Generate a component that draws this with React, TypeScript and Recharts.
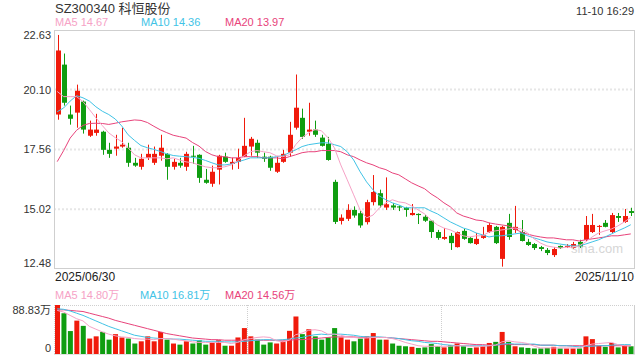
import React from 'react';
import { ComposedChart, Bar, Line, XAxis, YAxis, CartesianGrid, Cell } from 'recharts';

const UP = '#f01a0b';
const DOWN = '#0f9d10';
const C_MA5 = '#f6a2c6';
const C_MA10 = '#41c3e6';
const C_MA20 = '#e8437b';

// daily candles, 2025/06/30 .. 2025/11/10
const OPEN = [
  19.04, 21.16, 19.04, 19.12, 19.59, 18.14, 18.26, 18.31, 17.54, 17.59,
  17.68, 17.63, 16.99, 16.82, 17.20, 16.99, 17.29, 17.37, 16.82, 16.99,
  16.82, 17.29, 17.33, 16.27, 16.10, 16.70, 17.25, 16.94, 17.03, 17.25,
  17.68, 17.84, 17.25, 17.25, 16.61, 17.03, 17.42, 18.48, 18.90, 18.31,
  18.40, 18.06, 17.80, 16.18, 14.52, 14.61, 14.99, 14.85, 14.47, 15.32,
  15.70, 15.09, 15.18, 15.14, 15.08, 14.77, 14.82, 14.70, 14.53, 14.05,
  13.76, 13.89, 13.41, 14.10, 13.80, 13.54, 13.80, 14.05, 14.27, 12.91,
  14.44, 14.14, 14.05, 13.63, 13.54, 13.41, 13.29, 13.07, 13.46, 13.41,
  13.37, 13.63, 13.72, 14.05, 14.27, 14.44, 14.05, 14.73, 14.48, 14.94,
];
const HIGH = [
  22.42, 21.63, 19.42, 20.31, 19.63, 18.78, 19.07, 18.35, 17.84, 18.18,
  18.48, 17.84, 17.20, 17.37, 17.76, 17.68, 18.18, 17.40, 17.16, 17.20,
  17.46, 17.71, 17.35, 16.73, 16.87, 17.33, 17.42, 17.20, 17.59, 18.90,
  18.09, 17.97, 17.42, 17.29, 17.25, 17.54, 18.73, 20.74, 19.29, 19.54,
  18.78, 18.18, 18.09, 16.27, 14.80, 15.23, 15.14, 14.94, 15.42, 16.47,
  15.85, 16.37, 15.28, 15.18, 15.12, 15.24, 14.84, 14.77, 14.56, 14.14,
  14.22, 14.01, 14.07, 14.18, 13.84, 14.01, 14.27, 14.44, 14.31, 14.31,
  14.82, 15.16, 14.56, 13.76, 13.58, 13.46, 13.37, 13.41, 13.48, 13.54,
  13.63, 13.72, 14.73, 14.82, 14.35, 14.56, 14.86, 14.86, 15.03, 15.08,
];
const LOW = [
  18.82, 19.42, 18.61, 18.48, 18.23, 18.09, 18.14, 17.33, 17.20, 17.29,
  17.63, 16.82, 16.82, 16.70, 17.11, 16.90, 17.08, 16.27, 16.70, 16.78,
  16.65, 16.94, 16.14, 16.10, 15.97, 16.07, 16.99, 16.70, 16.73, 17.23,
  17.29, 17.20, 17.03, 16.65, 16.56, 16.99, 17.25, 18.40, 18.01, 18.14,
  18.09, 17.68, 17.08, 14.39, 14.37, 14.52, 14.66, 14.23, 14.37, 15.18,
  15.09, 14.99, 14.99, 14.94, 14.70, 14.75, 14.39, 14.48, 13.80, 13.72,
  13.72, 13.29, 13.39, 13.72, 13.56, 13.50, 13.76, 14.01, 13.54, 12.58,
  13.72, 14.01, 13.65, 13.46, 13.29, 13.24, 13.07, 12.99, 13.33, 13.37,
  13.33, 13.37, 13.67, 14.01, 13.93, 14.25, 14.01, 14.48, 14.44, 14.73,
];
const CLOSE = [
  21.76, 19.54, 18.86, 20.05, 18.40, 18.40, 18.40, 17.54, 17.37, 17.68,
  17.76, 16.99, 16.87, 17.16, 17.37, 17.37, 17.63, 16.82, 17.03, 16.87,
  17.37, 17.25, 16.35, 16.14, 16.61, 17.29, 17.03, 17.03, 17.20, 17.71,
  18.01, 17.42, 17.16, 16.78, 16.99, 17.37, 18.18, 19.33, 18.09, 18.40,
  18.18, 17.71, 17.11, 14.48, 14.66, 14.99, 14.75, 14.33, 15.32, 15.75,
  15.18, 15.23, 15.09, 15.09, 14.99, 14.86, 14.77, 14.53, 14.05, 13.80,
  13.84, 13.58, 14.05, 13.76, 13.58, 13.76, 13.93, 14.35, 13.58, 14.27,
  13.84, 14.27, 13.67, 13.50, 13.37, 13.33, 13.16, 13.33, 13.37, 13.46,
  13.54, 13.41, 14.35, 14.35, 14.31, 14.27, 14.77, 14.65, 14.73, 14.86,
];

const MA5 = [
  20.02, 19.80, 19.80, 19.80, 19.59, 19.25, 18.90, 18.57, 18.26, 18.06,
  17.89, 17.63, 17.33, 17.20, 17.20, 17.20, 17.20, 17.16, 17.20, 17.11,
  17.03, 16.99, 16.90, 16.82, 16.78, 16.78, 16.82, 16.90, 17.08, 17.29,
  17.46, 17.51, 17.46, 17.42, 17.29, 17.25, 17.33, 17.76, 18.06, 18.26,
  18.40, 18.35, 18.06, 17.63, 16.90, 16.27, 15.63, 14.99, 14.65, 14.77,
  15.08, 15.29, 15.42, 15.33, 15.29, 15.16, 14.99, 14.82, 14.56, 14.35,
  14.22, 14.14, 14.01, 13.89, 13.84, 13.89, 13.89, 14.05, 14.10, 14.14,
  14.18, 14.22, 14.18, 14.01, 13.76, 13.58, 13.46, 13.41, 13.37, 13.41,
  13.41, 13.46, 13.63, 13.84, 14.01, 14.10, 14.18, 14.31, 14.48, 14.67,
];
const MA10 = [
  19.16, 19.32, 19.61, 19.84, 19.75, 19.61, 19.37, 19.18, 19.04, 18.85,
  18.56, 18.18, 17.94, 17.72, 17.63, 17.56, 17.47, 17.37, 17.30, 17.27,
  17.25, 17.22, 17.18, 17.09, 16.99, 16.90, 16.90, 16.94, 17.03, 17.11,
  17.20, 17.20, 17.20, 17.20, 17.25, 17.29, 17.42, 17.54, 17.68, 17.76,
  17.80, 17.84, 17.84, 17.76, 17.68, 17.46, 17.11, 16.61, 16.18, 15.84,
  15.58, 15.42, 15.29, 15.20, 15.08, 15.08, 15.08, 15.08, 14.94, 14.82,
  14.65, 14.48, 14.35, 14.22, 14.14, 14.01, 13.93, 13.84, 13.89, 13.89,
  13.93, 13.97, 14.01, 13.89, 13.80, 13.72, 13.63, 13.58, 13.54, 13.50,
  13.46, 13.46, 13.54, 13.63, 13.72, 13.84, 13.97, 14.10, 14.22, 14.36,
];
const MA20 = [
  17.04, 17.51, 18.04, 18.37, 18.58, 18.66, 18.67, 18.66, 18.62, 18.67,
  18.73, 18.77, 18.81, 18.79, 18.70, 18.54, 18.39, 18.27, 18.16, 18.10,
  18.04, 17.85, 17.70, 17.47, 17.33, 17.25, 17.25, 17.20, 17.20, 17.25,
  17.25, 17.25, 17.20, 17.20, 17.20, 17.16, 17.25, 17.33, 17.42, 17.46,
  17.46, 17.51, 17.51, 17.51, 17.46, 17.33, 17.25, 17.11, 16.99, 16.90,
  16.78, 16.70, 16.56, 16.48, 16.31, 16.14, 16.01, 15.89, 15.67, 15.50,
  15.29, 15.12, 14.86, 14.73, 14.65, 14.56, 14.53, 14.44, 14.39, 14.35,
  14.31, 14.18, 14.05, 13.96, 13.89, 13.84, 13.80, 13.80, 13.76, 13.72,
  13.72, 13.67, 13.72, 13.76, 13.80, 13.84, 13.89, 13.89, 13.93, 13.97,
];

// volume in 万 shares
const VOLUME = [
  88.83, 73.7, 41.6, 60.5, 51, 28, 32, 40, 26, 36,
  30, 28, 19, 23, 32, 23, 40, 26, 19, 17,
  23, 19, 25, 17, 21, 25, 15, 15, 30, 47,
  32, 26, 17, 21, 19, 23, 42, 68, 36, 45,
  32, 26, 30, 47, 30, 26, 23, 28, 32, 38,
  26, 26, 19, 15, 14, 13, 11, 12, 18, 14,
  12, 16, 19, 14, 11, 12, 14, 20, 22, 40,
  22, 14, 12, 11, 10, 10, 11, 13, 10, 10,
  10, 10, 32, 27, 15, 13, 20, 12, 15, 14,
];
const VOL_MA5 = [
  79, 76, 70, 64, 60, 50, 45, 40, 36, 33,
  31, 30, 28, 27, 27, 26, 28, 28, 27, 25,
  24, 22, 21, 21, 21, 21, 21, 19, 21, 26,
  28, 30, 31, 30, 24, 22, 25, 35, 38, 43,
  44, 42, 36, 36, 34, 31, 30, 29, 29, 30,
  30, 30, 28, 25, 21, 18, 15, 14, 14, 14,
  14, 14, 15, 15, 14, 14, 14, 15, 16, 22,
  24, 22, 21, 19, 14, 11, 11, 11, 11, 11,
  11, 11, 15, 18, 19, 20, 21, 17, 15, 14.8,
];
const VOL_MA10 = [
  82, 81, 78, 74, 70, 65, 60, 55, 50, 46,
  42, 38, 34, 32, 30, 29, 28, 28, 27, 27,
  26, 25, 24, 23, 23, 23, 22, 22, 22, 23,
  24, 25, 26, 26, 25, 26, 27, 29, 30, 33,
  35, 36, 35, 36, 36, 35, 34, 32, 31, 31,
  31, 30, 29, 28, 26, 24, 23, 21, 20, 19,
  17, 16, 15, 15, 15, 15, 15, 15, 16, 18,
  19, 18, 18, 18, 18, 16, 16, 16, 15, 15,
  14, 13, 14, 14, 15, 15, 16, 17, 17, 16.81,
];
const VOL_MA20 = [
  80, 80, 79, 78, 77, 74, 71, 68, 65, 61,
  58, 55, 52, 49, 46, 43, 40, 37, 35, 33,
  31, 29, 28, 27, 26, 26, 25, 25, 25, 25,
  25, 25, 25, 25, 25, 25, 25, 26, 26, 27,
  28, 29, 30, 31, 31, 31, 31, 30, 30, 30,
  30, 30, 29, 28, 27, 26, 25, 24, 23, 23,
  22, 21, 20, 19, 18, 17, 17, 16, 16, 17,
  17, 17, 17, 17, 17, 16, 16, 16, 15, 15,
  15, 15, 15, 15, 15, 15, 15, 15, 15, 14.56,
];

const PRICE_TICKS = [12.48, 15.02, 17.56, 20.1, 22.63];
const VOL_TICKS = [0, 88.83];
const DATE_LABELS = ['2025/06/30', '2025/11/10'];

const data = OPEN.map((o, i) => ({
  i,
  open: o,
  high: HIGH[i],
  low: LOW[i],
  close: CLOSE[i],
  range: [LOW[i], HIGH[i]],
  ma5: MA5[i],
  ma10: MA10[i],
  ma20: MA20[i],
  vol: VOLUME[i],
  vma5: VOL_MA5[i],
  vma10: VOL_MA10[i],
  vma20: VOL_MA20[i],
}));

const Candle = (props: any) => {
  const { x, y, width, height, payload } = props;
  const { open, close, high, low } = payload;
  const color = close >= open ? UP : DOWN;
  const top = Math.min(y, y + height);
  const h = Math.abs(height);
  const k = h / (high - low);
  const bTop = top + (high - Math.max(open, close)) * k;
  const bBot = top + (high - Math.min(open, close)) * k;
  const cx = Math.round(x + width / 2) + 0.5;
  return (
    <g>
      <line x1={cx} x2={cx} y1={top} y2={top + h} stroke={color} strokeWidth={1} />
      <rect x={cx - 2.5} y={bTop} width={5} height={Math.max(bBot - bTop, 1)} fill={color} />
    </g>
  );
};

const PriceTick = ({ x, y, payload }: any) => {
  let dy = 4;
  if (payload.value === 22.63) dy = 9;
  if (payload.value === 12.48) dy = -2;
  return (
    <text x={x} y={y} dy={dy} textAnchor="end" fontSize={11} fill="#333">
      {payload.value.toFixed(2)}
    </text>
  );
};

const VolTick = ({ x, y, payload }: any) => (
  <text x={x} y={y} dy={payload.value === 0 ? -2 : 9} textAnchor="end" fontSize={11} fill="#333">
    {payload.value === 0 ? '0' : payload.value.toFixed(2) + '万'}
  </text>
);

const txt = (left: number, top: number, color: string, s: string, size = 11) => (
  <div style={{ position: 'absolute', left, top, color, fontSize: size, lineHeight: '14px', whiteSpace: 'nowrap' }}>{s}</div>
);

export default function App() {
  return (
    <div
      style={{
        position: 'absolute', left: 0, top: 0, width: 640, height: 360, background: '#fff',
        fontFamily: 'Arial, "Liberation Sans", "Noto Sans CJK SC", sans-serif',
      }}
    >
      {txt(55, 2, '#333', 'SZ300340 科恒股份', 13)}
      <div style={{ position: 'absolute', right: 6, top: 5, fontSize: 11, color: '#333' }}>11-10 16:29</div>
      {txt(55, 15, C_MA5, 'MA5 14.67')}
      {txt(141, 15, C_MA10, 'MA10 14.36')}
      {txt(225, 15, C_MA20, 'MA20 13.97')}

      <div style={{ position: 'absolute', left: 0, top: 0 }}>
        <ComposedChart width={640} height={270} data={data} margin={{ top: 30, right: 6, bottom: 1, left: 0 }}>
          <CartesianGrid
            vertical={false}
            horizontalValues={[15.02, 17.56, 20.1]}
            stroke="#e6e6e6"
            strokeWidth={2}
            strokeDasharray="2 2"
          />
          <XAxis dataKey="i" hide />
          <YAxis
            domain={[12.48, 22.63]}
            ticks={PRICE_TICKS}
            interval={0}
            width={54}
            axisLine={false}
            tickLine={false}
            tickSize={0}
            tickMargin={3}
            tick={<PriceTick />}
            allowDataOverflow
          />
          <Bar dataKey="range" barSize={5} shape={<Candle />} isAnimationActive={false} />
          <Line dataKey="ma20" stroke={C_MA20} strokeWidth={1} dot={false} isAnimationActive={false} />
          <Line dataKey="ma10" stroke={C_MA10} strokeWidth={1} dot={false} isAnimationActive={false} />
          <Line dataKey="ma5" stroke={C_MA5} strokeWidth={1} dot={false} isAnimationActive={false} />
        </ComposedChart>
      </div>

      <svg width={640} height={360} style={{ position: 'absolute', left: 0, top: 0, pointerEvents: 'none' }}>
        <rect x={54.5} y={30.5} width={580} height={238} fill="none" stroke="#cfcfcf" />
        <text x={623} y={253} textAnchor="end" fontSize={13} fill="#d6d6d6">sina.com</text>
        <line x1={54} x2={634} y1={305.5} y2={305.5} stroke="#cfcfcf" strokeDasharray="1 1" />
        <line x1={54.5} x2={54.5} y1={305} y2={354} stroke="#cfcfcf" strokeDasharray="1 1" />
        <line x1={247.5} x2={247.5} y1={305} y2={354} stroke="#cfcfcf" strokeDasharray="1 1" />
        <line x1={441.5} x2={441.5} y1={305} y2={354} stroke="#cfcfcf" strokeDasharray="1 1" />
        <line x1={634.5} x2={634.5} y1={305} y2={354.5} stroke="#cfcfcf" />
        <line x1={54} x2={634.5} y1={354.5} y2={354.5} stroke="#e2e2e2" />
      </svg>

      {txt(55, 270, '#222', DATE_LABELS[0], 12)}
      <div style={{ position: 'absolute', right: 6, top: 270, fontSize: 12, color: '#222' }}>{DATE_LABELS[1]}</div>

      {txt(55, 288, C_MA5, 'MA5 14.80万')}
      {txt(140, 288, C_MA10, 'MA10 16.81万')}
      {txt(225, 288, C_MA20, 'MA20 14.56万')}

      <div style={{ position: 'absolute', left: 0, top: 300 }}>
        <ComposedChart width={640} height={57} data={data} margin={{ top: 5, right: 6, bottom: 3, left: 0 }}>
          <XAxis dataKey="i" hide />
          <YAxis
            domain={[0, 88.83]}
            ticks={VOL_TICKS}
            interval={0}
            width={54}
            axisLine={false}
            tickLine={false}
            tickSize={0}
            tickMargin={3}
            tick={<VolTick />}
          />
          <Bar dataKey="vol" barSize={5} isAnimationActive={false}>
            {data.map((d) => (
              <Cell key={d.i} fill={d.close >= d.open ? UP : DOWN} />
            ))}
          </Bar>
          <Line dataKey="vma20" stroke={C_MA20} strokeWidth={1} dot={false} isAnimationActive={false} />
          <Line dataKey="vma10" stroke={C_MA10} strokeWidth={1} dot={false} isAnimationActive={false} />
          <Line dataKey="vma5" stroke={C_MA5} strokeWidth={1} dot={false} isAnimationActive={false} />
        </ComposedChart>
      </div>
    </div>
  );
}
